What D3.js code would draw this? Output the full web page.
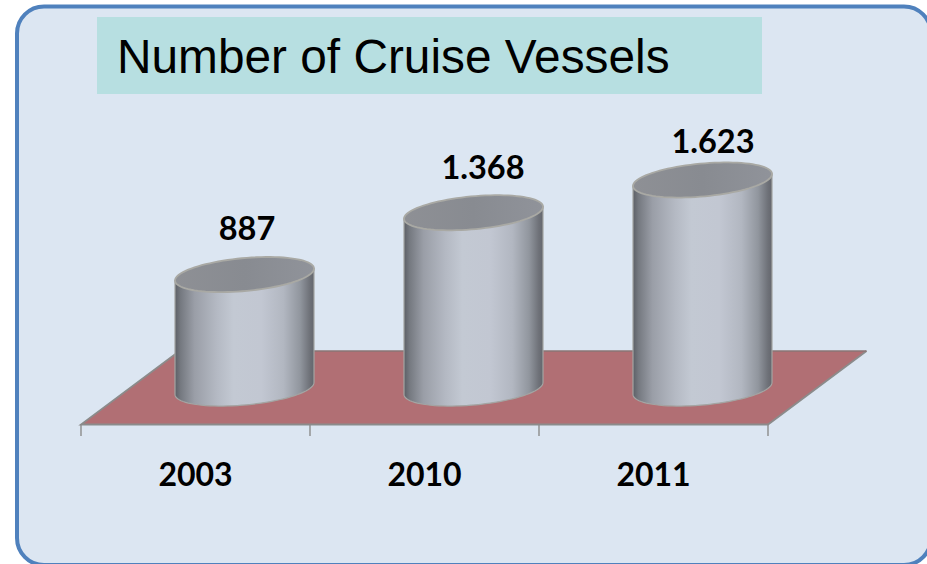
<!DOCTYPE html>
<html>
<head>
<meta charset="utf-8">
<script src="https://cdn.jsdelivr.net/npm/d3@7/dist/d3.min.js"></script>
<style>
html,body{margin:0;padding:0;background:#fff;overflow:hidden}
svg{display:block}
</style>
</head>
<body>
<svg id="c" width="927" height="564"></svg>
<script>
const titleText = "Number of Cruise Vessels";
const categories = ["2003", "2010", "2011"];
const vessels = [887, 1368, 1623];

const svg = d3.select("#c");
const defs = svg.append("defs");

const bodyGrad = defs.append("linearGradient").attr("id", "body");
[[0,"#5c5f66"],[0.04,"#757980"],[0.14,"#9a9ea7"],[0.3,"#b4b9c3"],[0.42,"#c3c9d3"],[0.62,"#c2c7d2"],[0.78,"#b2b7c1"],[0.9,"#91969e"],[0.97,"#6e7178"],[1,"#64666d"]]
  .forEach(s => bodyGrad.append("stop").attr("offset", s[0]).attr("stop-color", s[1]));
const topGrad = defs.append("linearGradient").attr("id", "top");
[[0,"#8e9095"],[0.5,"#888b91"],[1,"#90939a"]]
  .forEach(s => topGrad.append("stop").attr("offset", s[0]).attr("stop-color", s[1]));

// panel
svg.append("rect").attr("x", 17).attr("y", 6.5).attr("width", 914).attr("height", 558.5)
  .attr("rx", 27).attr("ry", 27)
  .attr("fill", "#dce6f2").attr("stroke", "#4f81bd").attr("stroke-width", 4);

// title
svg.append("rect").attr("x", 97).attr("y", 17).attr("width", 665).attr("height", 77).attr("fill", "#b7dfe1");
svg.append("text").attr("x", 117).attr("y", 72.5)
  .attr("font-family", "'Liberation Sans'").attr("font-size", 47.8).attr("fill", "#000")
  .text(titleText);

// scales
const floorLeft = 81, floorRight = 768, floorFront = 424.5, floorBack = 351, depthX = 98.5;
const x = d3.scaleBand().domain(categories).range([floorLeft, floorRight]);
const baseY = 388.5, maxTopY = 180;
const y = d3.scaleLinear().domain([0, d3.max(vessels)]).range([baseY, maxTopY]);
const fmt = d3.formatLocale({decimal: ",", thousands: ".", grouping: [3], currency: ["", ""]}).format(",d");

// floor
svg.append("path")
  .attr("d", d3.line()([[floorLeft, floorFront], [floorRight, floorFront], [floorRight + depthX, floorBack], [floorLeft + depthX, floorBack]]) + "Z")
  .attr("fill", "#b16f74");
svg.append("path")
  .attr("d", d3.line()([[floorLeft + depthX, floorBack], [floorLeft, floorFront], [floorRight, floorFront], [floorRight + depthX, floorBack]]))
  .attr("fill", "none").attr("stroke", "#8b8b8b").attr("stroke-width", 1.8);
svg.append("path")
  .attr("d", d3.line()([[floorLeft + depthX, floorBack], [floorRight + depthX, floorBack]]))
  .attr("fill", "none").attr("stroke", "#8a7474").attr("stroke-width", 1.6);

// axis with ticks on band edges
const edges = categories.map(c => x(c)).concat([floorRight]);
svg.selectAll("line.tick").data(edges).join("line").attr("class", "tick")
  .attr("x1", d => d).attr("x2", d => d).attr("y1", floorFront).attr("y2", 436)
  .attr("stroke", "#8b8b8b").attr("stroke-width", 1.4);
const axisG = svg.append("g").attr("transform", "translate(0,485.5)")
  .call(d3.axisBottom(x).tickSize(0).tickPadding(0));
axisG.select(".domain").remove();
axisG.selectAll("text").attr("font-family", "Lato").attr("font-weight", 700)
  .attr("font-size", 32).attr("fill", "#000").attr("dy", "0").attr("y", 0);

// cylinders
const rx = 69.5, ry = 16.5, skew = 6;
const ts = d3.range(0, 181, 4).map(d => d * Math.PI / 180);
const rim = (cx, cy, t) => [cx + rx * Math.cos(t), cy + ry * Math.sin(t) - skew * Math.cos(t)];
const shift = 49;

const cyl = svg.selectAll("g.cyl").data(categories.map((c, i) => ({c, v: vessels[i]}))).join("g").attr("class", "cyl");
cyl.each(function(d) {
  const g = d3.select(this);
  const cx = x(d.c) + x.bandwidth() / 2 + shift;
  const topY = y(d.v);
  const lowerRim = ts.map(t => rim(cx, baseY, t));
  const body = [...lowerRim, rim(cx, topY, Math.PI), rim(cx, topY, 0)];
  g.append("path").attr("d", d3.line()(body) + "Z")
    .attr("fill", "url(#body)").attr("stroke", "#a3a5a3").attr("stroke-width", 1.2);
  const topRim = d3.range(0, 360, 4).map(t => rim(cx, topY, t * Math.PI / 180));
  g.append("path").attr("d", d3.line()(topRim) + "Z")
    .attr("fill", "url(#top)").attr("stroke", "#a9a9a4").attr("stroke-width", 1.8);
});

// value labels
const labelDx = [2.5, 9.5, 10.5], labelDy = [-35, -34, -27];
svg.selectAll("text.val").data(vessels).join("text").attr("class", "val")
  .attr("x", (d, i) => x(categories[i]) + x.bandwidth() / 2 + shift + labelDx[i])
  .attr("y", (d, i) => y(d) + labelDy[i])
  .attr("text-anchor", "middle").attr("font-family", "Lato").attr("font-weight", 700)
  .attr("font-size", 32.5).attr("fill", "#000")
  .text(d => fmt(d));
</script>
</body>
</html>
